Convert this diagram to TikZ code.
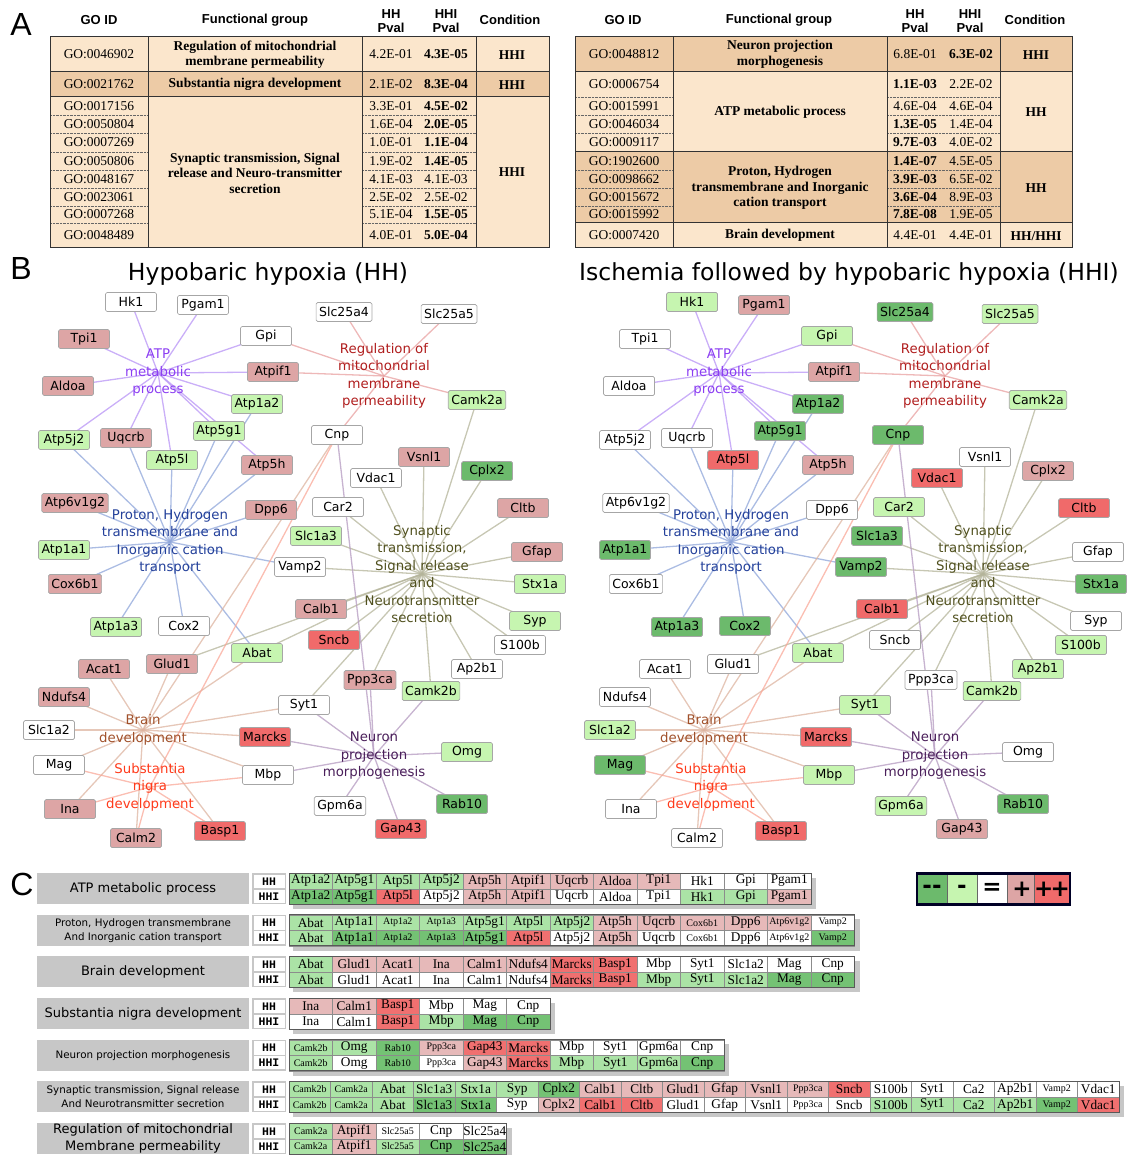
\documentclass[tikz,border=0pt]{standalone}
\usepackage{fontspec}
\setmainfont{Liberation Serif}
\newfontfamily\dejavu{DejaVu Sans}
\newfontfamily\arialf{Liberation Sans}
\newfontfamily\monof{Liberation Mono}
\usetikzlibrary{backgrounds}

% node fills (network + legend)
\definecolor{cw}{HTML}{FFFFFF}
\definecolor{cl}{HTML}{C6F5B0}
\definecolor{cd}{HTML}{6CBA6C}
\definecolor{cp}{HTML}{DDA5A5}
\definecolor{cr}{HTML}{F06A6A}
% cell fills (panel C)
\definecolor{kw}{HTML}{FFFFFF}
\definecolor{kl}{HTML}{ABE3A6}
\definecolor{kd}{HTML}{74C274}
\definecolor{kp}{HTML}{E6B9B9}
\definecolor{kr}{HTML}{F07070}
% table
\definecolor{tlight}{HTML}{FBE6CC}
\definecolor{tdark}{HTML}{EDCBA6}
% hub texts and edges
\definecolor{txatp}{HTML}{8B3DF2}
\definecolor{txprot}{HTML}{23409A}
\definecolor{txreg}{HTML}{B01E1E}
\definecolor{txsyn}{HTML}{50501E}
\definecolor{txbrain}{HTML}{A0502A}
\definecolor{txsn}{HTML}{FF3A1A}
\definecolor{txneur}{HTML}{4A1F5A}
\definecolor{edatp}{HTML}{B894F5}
\definecolor{edprot}{HTML}{8FA6DA}
\definecolor{edreg}{HTML}{E8A0A0}
\definecolor{edsyn}{HTML}{B4B49A}
\definecolor{edbrain}{HTML}{DDB4A0}
\definecolor{edsn}{HTML}{F9A898}
\definecolor{edneur}{HTML}{B49AC0}

\tikzset{
  panel/.style={font=\arialf\fontsize{32}{32}\selectfont, inner sep=0pt},
  thead/.style={font=\arialf\bfseries\fontsize{13}{14}\selectfont, align=center, inner sep=0pt},
  tcell/.style={font=\fontsize{13.5}{15}\selectfont, inner sep=0pt},
  tgroup/.style={font=\bfseries\fontsize{13.5}{15.5}\selectfont, align=center, inner sep=0pt},
  title/.style={font=\dejavu\fontsize{23.5}{26}\selectfont, inner sep=0pt},
  gene/.style={draw=black!35, line width=0.7pt, rounded corners=1.5pt, minimum width=51pt,
    minimum height=19pt, inner xsep=3pt, inner ysep=0pt, font=\dejavu\fontsize{12.5}{14}\selectfont},
  hub/.style={font=\dejavu\fontsize{13.3}{17.5}\selectfont, align=center, inner sep=0pt},
  edge/.style={line width=1.3pt, draw opacity=0.75},
  glab/.style={align=center, inner sep=0pt},
  gbig/.style={font=\dejavu\fontsize{13}{17}\selectfont},
  gsml/.style={font=\dejavu\fontsize{10.3}{14}\selectfont},
  hhlab/.style={font=\monof\bfseries\fontsize{11.5}{12}\selectfont, inner sep=0pt},
  ccell/.style={draw=black!45, line width=0.4pt, minimum height=15.5pt, inner sep=0pt},
  tbig/.style={font=\fontsize{13.3}{14}\selectfont},
  tsml/.style={font=\fontsize{10}{11}\selectfont},
  legc/.style={minimum width=30pt, minimum height=31pt, inner sep=0pt, draw=black!60,
    font=\dejavu\bfseries\fontsize{23}{23}\selectfont}
}

\begin{document}
\begin{tikzpicture}[x=1pt,y=-1pt]
\useasboundingbox (0,0) rectangle (1127,1155);

% ---------------- A
\node[panel] (pa) at (21,24) {A};

% left table
\fill[tlight] (50,37) rectangle (549,72);
\fill[tdark] (50,72) rectangle (549,97);
\fill[tlight] (50,97) rectangle (549,248);
\foreach \y in {115,133,152,170,188,206,223}
  \draw[densely dotted, black!60] (50,\y) -- (148,\y) (362,\y) -- (476,\y);
\draw[black!80, line width=1pt] (50,37) rectangle (549,248);
\draw[black!80, line width=1pt] (50,72) -- (549,72) (50,97) -- (549,97)
  (148,37) -- (148,248) (362,37) -- (362,248) (476,37) -- (476,248);

\node[thead] (lh1) at (99,20) {GO ID};
\node[thead] (lh2) at (255,20) {Functional group};
\node[thead] (lh3) at (391,21) {HH\\Pval};
\node[thead] (lh4) at (446,21) {HHI\\Pval};
\node[thead] (lh5) at (510,20) {Condition};

\foreach \id/\y/\p/\q [count=\k] in {
  GO:0046902/54.5/4.2E-01/\textbf{4.3E-05},
  GO:0021762/84.5/2.1E-02/\textbf{8.3E-04},
  GO:0017156/106/3.3E-01/\textbf{4.5E-02},
  GO:0050804/124/1.6E-04/\textbf{2.0E-05},
  GO:0007269/142.5/1.0E-01/\textbf{1.1E-04},
  GO:0050806/161/1.9E-02/\textbf{1.4E-05},
  GO:0048167/179/4.1E-03/4.1E-03,
  GO:0023061/197/2.5E-02/2.5E-02,
  GO:0007268/214.5/5.1E-04/\textbf{1.5E-05},
  GO:0048489/235.5/4.0E-01/\textbf{5.0E-04}}
{
  \node[tcell] (la\k) at (99,\y) {\id};
  \node[tcell] (lb\k) at (391,\y) {\p};
  \node[tcell] (lc\k) at (446,\y) {\q};
}
\node[tgroup] (lg1) at (255,54.5) {Regulation of mitochondrial\\membrane permeability};
\node[tgroup] (lg2) at (255,84.5) {Substantia nigra development};
\node[tgroup] (lg3) at (255,173) {Synaptic transmission, Signal\\release and Neuro-transmitter\\secretion};
\node[tgroup] (lk1) at (512,55) {HHI};
\node[tgroup] (lk2) at (512,85) {HHI};
\node[tgroup] (lk3) at (512,172) {HHI};

% right table
\fill[tdark] (575,37) rectangle (1072,72);
\fill[tlight] (575,72) rectangle (1072,152);
\fill[tdark] (575,152) rectangle (1072,223);
\fill[tlight] (575,223) rectangle (1072,248);
\foreach \y in {97,115,133,170,188,206}
  \draw[densely dotted, black!60] (575,\y) -- (673,\y) (887,\y) -- (1000,\y);
\draw[black!80, line width=1pt] (575,37) rectangle (1072,248);
\draw[black!80, line width=1pt] (575,72) -- (1072,72) (575,152) -- (1072,152) (575,223) -- (1072,223)
  (673,37) -- (673,248) (887,37) -- (887,248) (1000,37) -- (1000,248);

\node[thead] (rh1) at (623,20) {GO ID};
\node[thead] (rh2) at (779,20) {Functional group};
\node[thead] (rh3) at (915,21) {HH\\Pval};
\node[thead] (rh4) at (970,21) {HHI\\Pval};
\node[thead] (rh5) at (1035,20) {Condition};

\foreach \id/\y/\p/\q [count=\k] in {
  GO:0048812/54.5/6.8E-01/\textbf{6.3E-02},
  GO:0006754/84.5/\textbf{1.1E-03}/2.2E-02,
  GO:0015991/106/4.6E-04/4.6E-04,
  GO:0046034/124/\textbf{1.3E-05}/1.4E-04,
  GO:0009117/142.5/\textbf{9.7E-03}/4.0E-02,
  GO:1902600/161/\textbf{1.4E-07}/4.5E-05,
  GO:0098662/179/\textbf{3.9E-03}/6.5E-02,
  GO:0015672/197/\textbf{3.6E-04}/8.9E-03,
  GO:0015992/214.5/\textbf{7.8E-08}/1.9E-05,
  GO:0007420/235.5/4.4E-01/4.4E-01}
{
  \node[tcell] (ra\k) at (624,\y) {\id};
  \node[tcell] (rb\k) at (915,\y) {\p};
  \node[tcell] (rc\k) at (971,\y) {\q};
}
\node[tgroup] (rg1) at (780,54.5) {Neuron projection\\morphogenesis};
\node[tgroup] (rg2) at (780,112) {ATP metabolic process};
\node[tgroup] (rg3) at (780,188) {Proton, Hydrogen\\transmembrane and Inorganic\\cation transport};
\node[tgroup] (rg4) at (780,235.5) {Brain development};
\node[tgroup] (rk1) at (1036,55) {HHI};
\node[tgroup] (rk2) at (1036,112) {HH};
\node[tgroup] (rk3) at (1036,188) {HH};
\node[tgroup] (rk4) at (1036,236) {HH/HHI};

% ---------------- B
\node[panel] (pb) at (21,268) {B};
\node[title] (tth) at (268,274) {Hypobaric hypoxia (HH)};
\node[title, anchor=west] (tti) at (579,274) {Ischemia followed by hypobaric hypoxia (HHI)};

\foreach \p/\dx in {h/0,i/561}{
  \node[hub, text=txatp] (\p atp) at (158+\dx,373) {ATP\\metabolic\\process};
  \node[hub, text=txreg] (\p reg) at (384+\dx,376) {Regulation of\\mitochondrial\\membrane\\permeability};
  \node[hub, text=txprot] (\p prot) at (170+\dx,542) {Proton, Hydrogen\\transmembrane and\\Inorganic cation\\transport};
  \node[hub, text=txsyn] (\p syn) at (422+\dx,574) {Synaptic\\transmission,\\Signal release\\and\\Neurotransmitter\\secretion};
  \node[hub, text=txbrain] (\p brain) at (143+\dx,730) {Brain\\development};
  \node[hub, text=txsn] (\p sn) at (150+\dx,787) {Substantia\\nigra\\development};
  \node[hub, text=txneur] (\p neur) at (374+\dx,756) {Neuron\\projection\\morphogenesis};
}

\foreach \n/\x/\y/\a/\b in {
  Hk1/131/302/cw/cl, Pgam1/203/305/cw/cp, Tpi1/84/339/cp/cw, Gpi/266/336/cw/cl,
  Slc25a4/344/312/cw/cd, Slc25a5/449/314/cw/cl, Aldoa/68/386/cp/cw, Atpif1/273/372/cp/cp,
  Atp1a2/257/404/cl/cd, Camk2a/477/400/cl/cl, Atp5j2/64/440/cl/cw, Uqcrb/126/438/cp/cw,
  Atp5g1/219/431/cl/cd, Cnp/337/435/cw/cd, Atp5l/172/460/cl/cr, Atp5h/267/465/cp/cp,
  Vsnl1/424/457/cp/cw, Vdac1/376/478/cw/cr, Cplx2/487/471/cd/cp, Atp6v1g2/75/503/cp/cw,
  Dpp6/271/510/cp/cw, Car2/338/507/cw/cl, Cltb/523/508/cp/cr, Slc1a3/316/536/cl/cd,
  Gfap/537/552/cp/cw, Atp1a1/64/550/cl/cd, Vamp2/300/567/cw/cd, Cox6b1/75/584/cp/cw,
  Stx1a/540/584/cl/cd, Calb1/321/609/cp/cr, Syp/535/621/cl/cw, Atp1a3/116/627/cl/cd,
  Cox2/184/626/cw/cd, Sncb/334/640/cr/cw, S100b/520/645/cw/cl, Abat/257/653/cl/cl,
  Glud1/172/664/cp/cw, Acat1/104/669/cp/cw, Ap2b1/477/669/cw/cl, Ppp3ca/370/680/cp/cw,
  Ndufs4/64/697/cp/cw, Camk2b/431/691/cl/cl, Syt1/304/705/cw/cl, Slc1a2/49/730/cw/cl,
  Marcks/265/737/cr/cr, Omg/467/752/cl/cw, Mag/59/765/cw/cd, Mbp/268/775/cw/cl,
  Ina/70/809/cp/cw, Gpm6a/340/806/cw/cl, Rab10/462/804/cd/cd, Calm2/136/838/cp/cw,
  Basp1/220/831/cr/cr, Gap43/401/829/cr/cp}
{
  \node[gene, fill=\a] (h\n) at (\x,\y) {\n};
  \node[gene, fill=\b] (i\n) at (\x+561,\y) {\n};
}

\begin{scope}[on background layer]
\foreach \hb/\gl in {
  atp/{Hk1,Pgam1,Tpi1,Gpi,Aldoa,Atpif1,Atp1a2,Atp5j2,Uqcrb,Atp5g1,Atp5l,Atp5h},
  prot/{Atp5j2,Uqcrb,Atp5l,Atp5g1,Atp1a2,Atp5h,Atp6v1g2,Dpp6,Atp1a1,Vamp2,Cox6b1,Atp1a3,Cox2,Abat},
  reg/{Slc25a4,Slc25a5,Atpif1,Camk2a,Cnp,Gpi},
  syn/{Camk2a,Vsnl1,Cplx2,Vdac1,Cltb,Car2,Slc1a3,Gfap,Vamp2,Stx1a,Calb1,Syp,S100b,Ap2b1,Camk2b,Ppp3ca,Syt1,Abat,Glud1,Sncb},
  brain/{Acat1,Ndufs4,Slc1a2,Mag,Ina,Calm2,Basp1,Mbp,Marcks,Syt1,Abat,Glud1,Cnp},
  sn/{Ina,Calm2,Basp1,Mbp,Mag,Cnp},
  neur/{Camk2b,Omg,Rab10,Ppp3ca,Gap43,Marcks,Mbp,Syt1,Gpm6a,Cnp}}
{
  \foreach \g in \gl {
    \draw[edge, draw=ed\hb] (h\g.center) -- (h\hb.center);
    \draw[edge, draw=ed\hb] (i\g.center) -- (i\hb.center);
  }
}
\end{scope}

% ---------------- C
\node[panel] (pc) at (22,884) {C};

\foreach \lab/\lf/\w/\nc/\cells [count=\k from 0] in {
  {ATP metabolic process}/gbig/43.5/12/{Atp1a2/kl/kd/tbig,Atp5g1/kl/kd/tbig,Atp5l/kl/kr/tbig,Atp5j2/kl/kw/tbig,Atp5h/kp/kp/tbig,Atpif1/kp/kp/tbig,Uqcrb/kp/kw/tbig,Aldoa/kp/kw/tbig,Tpi1/kp/kw/tbig,Hk1/kw/kl/tbig,Gpi/kw/kl/tbig,Pgam1/kw/kp/tbig},
  {Proton, Hydrogen transmembrane\\And Inorganic cation transport}/gsml/43.5/13/{Abat/kl/kl/tbig,Atp1a1/kl/kd/tbig,Atp1a2/kl/kd/tsml,Atp1a3/kl/kd/tsml,Atp5g1/kl/kd/tbig,Atp5l/kl/kr/tbig,Atp5j2/kl/kw/tbig,Atp5h/kp/kp/tbig,Uqcrb/kp/kw/tbig,Cox6b1/kp/kw/tsml,Dpp6/kp/kw/tbig,Atp6v1g2/kp/kw/tsml,Vamp2/kw/kd/tsml},
  {Brain development}/gbig/43.5/13/{Abat/kl/kl/tbig,Glud1/kp/kw/tbig,Acat1/kp/kw/tbig,Ina/kp/kw/tbig,Calm1/kp/kw/tbig,Ndufs4/kp/kw/tbig,Marcks/kr/kr/tbig,Basp1/kr/kr/tbig,Mbp/kw/kl/tbig,Syt1/kw/kl/tbig,Slc1a2/kw/kl/tbig,Mag/kw/kd/tbig,Cnp/kw/kd/tbig},
  {Substantia nigra development}/gbig/43.5/6/{Ina/kp/kw/tbig,Calm1/kp/kw/tbig,Basp1/kr/kr/tbig,Mbp/kw/kl/tbig,Mag/kw/kd/tbig,Cnp/kw/kd/tbig},
  {Neuron projection morphogenesis}/gsml/43.5/10/{Camk2b/kl/kl/tsml,Omg/kl/kw/tbig,Rab10/kd/kd/tsml,Ppp3ca/kp/kw/tsml,Gap43/kr/kp/tbig,Marcks/kr/kr/tbig,Mbp/kw/kl/tbig,Syt1/kw/kl/tbig,Gpm6a/kw/kl/tbig,Cnp/kw/kd/tbig},
  {Synaptic transmission, Signal release\\And Neurotransmitter secretion}/gsml/41.5/20/{Camk2b/kl/kl/tsml,Camk2a/kl/kl/tsml,Abat/kl/kl/tbig,Slc1a3/kl/kd/tbig,Stx1a/kl/kd/tbig,Syp/kl/kw/tbig,Cplx2/kd/kp/tbig,Calb1/kp/kr/tbig,Cltb/kp/kr/tbig,Glud1/kp/kw/tbig,Gfap/kp/kw/tbig,Vsnl1/kp/kw/tbig,Ppp3ca/kp/kw/tsml,Sncb/kr/kw/tbig,S100b/kw/kl/tbig,Syt1/kw/kl/tbig,Ca2/kw/kl/tbig,Ap2b1/kw/kl/tbig,Vamp2/kw/kd/tsml,Vdac1/kw/kr/tbig},
  {Regulation of mitochondrial\\Membrane permeability}/gbig/43.5/5/{Camk2a/kl/kl/tsml,Atpif1/kp/kp/tbig,Slc25a5/kw/kl/tsml,Cnp/kw/kd/tbig,Slc25a4/kw/kd/tbig}}
{
  \pgfmathsetmacro{\gy}{873+41.67*\k}
  \fill[black!22] (37,\gy) rectangle (249,\gy+31);
  \node[glab, \lf] (g\k) at (143,\gy+15.5) {\lab};
  \fill[black!22] (252,\gy) rectangle (286,\gy+31);
  \fill[white] (253.5,\gy+1.5) rectangle (284.5,\gy+15);
  \fill[white] (253.5,\gy+16.5) rectangle (284.5,\gy+29.5);
  \node[hhlab] (t\k h) at (269,\gy+8.5) {HH};
  \node[hhlab] (t\k i) at (269,\gy+23.5) {HHI};
  \fill[black!22] (293,\gy+4.5) rectangle ({289+\nc*\w+5},\gy+36);
  \foreach \n/\a/\b/\f [count=\j from 0] in \cells {
    \node[ccell, \f, fill=\a, minimum width=\w pt] (c\k h\j) at ({289+(\j+0.5)*\w},\gy+8) {\n};
    \node[ccell, \f, fill=\b, minimum width=\w pt] (c\k i\j) at ({289+(\j+0.5)*\w},\gy+23.5) {\n};
  }
  \draw[black!65, line width=0.9pt] (289,\gy) rectangle ({289+\nc*\w},\gy+31.25);
}

% legend
\node[legc, fill=cd] (lg1) at (932,889) {{-}{-}};
\node[legc, fill=cl] (lg2) at (962,889) {{-}};
\node[legc, fill=cw] (lg3) at (992,889) {=};
\node[legc, fill=cp] (lg4) at (1022,889) {+};
\node[legc, fill=cr] (lg5) at (1052,889) {+\kern-3pt+};
\draw[black!85!blue, line width=2.5pt] (lg1.north west) rectangle (lg5.south east);
\end{tikzpicture}
\end{document}
